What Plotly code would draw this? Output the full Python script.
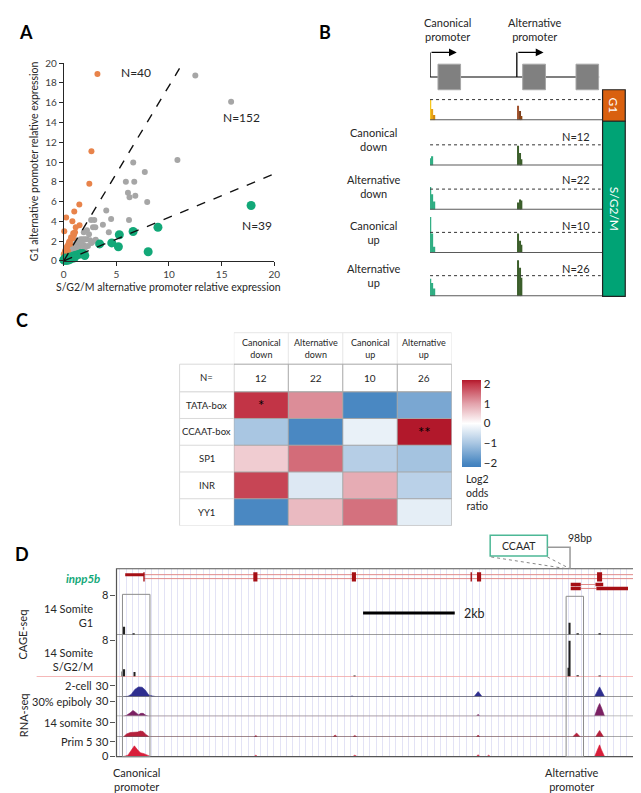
import plotly.graph_objects as go

W, H = 641, 793
def X(p): return p / W
def Y(p): return 1 - p / H

FONT = "Lato"
TXT = "#262626"

# ---------------- Panel A data ----------------
orange_x = [3.2, 2.63, 2.43, 1.48, 1.0, 0.23, 0.82, 1.5, 0.05, 1.14, 1.07, 0.98, 0.86, 0.6, 0.45,
            0.3, 0.14, 0.0, 0.02, 0.1, 0.25, 0.35, 0.5, 0.7, 0.9, 0.2, 0.4, 0.15, 0.05, 0.6]
orange_y = [18.9, 11.1, 7.8, 5.7, 5.0, 4.4, 4.0, 3.6, 3.0, 3.4, 2.9, 2.65, 2.3, 2.05, 1.7,
            1.4, 1.06, 0.67, 0.3, 0.9, 1.2, 1.5, 1.9, 2.4, 2.8, 0.6, 1.0, 0.8, 0.45, 1.7]
gray_x = [12.5, 15.9, 10.8, 6.6, 7.7, 5.9, 6.7, 6.1, 6.8, 6.25, 7.93, 4.04, 4.5, 6.2, 2.6, 2.9,
          3.72, 2.78, 4.28, 3.04, 2.63, 2.7, 2.17, 2.0, 1.8, 1.6, 1.4, 1.2, 1.0, 1.3, 1.6, 1.9,
          2.3, 0.8, 0.6, 1.0, 1.5, 0.4, 0.7, 1.2, 0.9, 0.3, 0.5, 1.7, 2.0, 1.1, 0.8, 1.4, 2.5,
          3.0, 1.2, 1.0, 0.55, 0.25, 2.4, 3.0, 1.66, 2.2, 1.9]
gray_y = [18.75, 16.1, 10.2, 9.95, 9.0, 8.0, 8.0, 6.9, 6.6, 6.45, 5.95, 5.1, 4.25, 4.15, 4.15, 4.15,
          3.65, 3.4, 2.9, 2.15, 1.8, 1.9, 2.2, 2.2, 2.2, 2.2, 2.0, 1.8, 1.6, 1.3, 1.5, 1.6,
          1.5, 1.2, 0.9, 0.9, 1.0, 0.5, 0.5, 0.7, 0.6, 0.3, 0.7, 1.8, 1.3, 1.2, 0.8, 1.4, 2.1,
          2.1, 2.1, 1.3, 0.4, 0.2, 2.7, 3.4, 1.62, 3.1, 2.9]
green_x = [17.8, 8.95, 8.02, 6.59, 5.28, 4.56, 5.19, 3.41, 1.79, 1.64, 1.4, 1.14, 0.92, 0.6, 0.45,
           0.23, 0.0, 0.3, 0.1, 0.7, 1.0, 0.5, 0.15, 2.0]
green_y = [5.6, 3.41, 0.93, 2.98, 2.65, 1.82, 1.43, 1.72, 0.75, 0.76, 0.65, 0.57, 0.5, 0.4, 0.27,
           0.17, 0.1, 0.05, 0.05, 0.2, 0.3, 0.1, 0.3, 0.55]
cut_slopes = [1.77, 0.44]
cut_x_end = [11.0, 20.0]
n_labels = ["N=40", "N=152", "N=39"]
n_label_xy = [(6.9, 19.1), (16.9, 14.5), (18.4, 3.6)]

# ---------------- Panel B data ----------------
b_tracks = ["G1", "Canonical<br>down", "Alternative<br>down", "Canonical<br>up", "Alternative<br>up"]
b_n = ["", "N=12", "N=22", "N=10", "N=26"]
b_canon_x = [0.3, 1.4, 2.6]
b_alt_x = [50.9, 52.0, 53.1]
b_canon_h = [[1.0, 0.55, 0.25], [0.35, 0.45, 0.0], [1.1, 0.75, 0.4], [1.75, 0.95, 0.3], [0.85, 0.65, 0.38]]
b_alt_h = [[0.7, 0.45, 0.2], [0.95, 0.6, 0.3], [0.35, 0.5, 0.45], [0.95, 0.6, 0.4], [1.75, 1.38, 0.9]]
exon_start = [4.6, 53.7, 84.6]
exon_end = [17.7, 66.9, 97.7]
promoter_x = [0.0, 50.3]
promoter_labels = ["Canonical<br>promoter", "Alternative<br>promoter"]

# ---------------- Panel C data ----------------
c_cols = ["Canonical<br>down", "Alternative<br>down", "Canonical<br>up", "Alternative<br>up"]
c_n = ["12", "22", "10", "26"]
c_rows = ["TATA-box", "CCAAT-box", "SP1", "INR", "YY1"]
c_z = [[2.0, 1.2, -2.0, -1.5],
       [-1.0, -2.0, -0.25, 2.4],
       [0.55, 1.5, -0.85, -1.05],
       [1.85, -0.4, 0.9, -0.8],
       [-2.0, 0.75, 1.45, -0.3]]
c_sig = [["*", "", "", ""], ["", "", "", "**"], ["", "", "", ""], ["", "", "", ""], ["", "", "", ""]]
c_ticks = [-2, -1, 0, 1, 2]

# ---------------- Panel D data (kb) ----------------
d_span_kb = 11.38
cage_g1_x = [0.17, 0.38, 9.89, 10.07, 10.55]
cage_g1_y = [1.6, 0.25, 2.4, 0.2, 0.2]
cage_s_x = [0.13, 0.17, 0.39, 5.2, 9.87, 9.89, 10.07, 10.55]
cage_s_y = [1.2, 1.7, 1.1, 0.15, 2.0, 8.0, 0.4, 0.25]
rna_labels = ["2-cell", "30% epiboly", "14 somite", "Prim 5"]
rna_colors = ["#2E2E8F", "#7B2163", "#B5203C", "#D81E3A"]
rna_x = [
    [0.15, 0.25, 0.32, 0.40, 0.48, 0.56, 0.63, 0.70, 0.78, 0.86, 5.10, 5.14, 5.18, 7.80, 7.89, 7.98, 10.43, 10.54, 10.65],
    [0.15, 0.22, 0.30, 0.36, 0.42, 0.48, 0.53, 0.58, 0.64, 0.70, 7.85, 7.89, 7.93, 10.43, 10.50, 10.54, 10.58, 10.65],
    [0.15, 0.22, 0.30, 0.38, 0.46, 0.52, 0.58, 0.64, 0.72, 3.0, 3.04, 3.08, 4.72, 4.77, 4.82, 5.15, 5.2, 5.25,
     7.85, 7.89, 7.93, 9.95, 10.04, 10.12, 10.45, 10.54, 10.63],
    [0.15, 0.25, 0.33, 0.39, 0.45, 0.52, 0.60, 0.68, 0.75, 3.0, 3.04, 3.08, 5.15, 5.2, 5.25, 7.85, 7.89, 7.93,
     8.08, 8.12, 8.16, 10.43, 10.50, 10.54, 10.58, 10.65],
]
rna_y = [
    [0, 1, 6, 20, 27, 26, 18, 5, 2, 0, 0, 2, 0, 0, 14, 0, 0, 27, 0],
    [0, 2, 7, 12, 8, 3, 6, 6, 2, 0, 0, 4, 0, 0, 18, 26, 18, 0],
    [0, 6, 9, 9, 10, 12, 11, 5, 0, 0, 3, 0, 0, 4, 0, 0, 3, 0, 0, 4, 0, 0, 8, 0, 0, 13, 0],
    [0, 3, 14, 22, 15, 8, 6, 3, 0, 0, 3, 0, 0, 3, 0, 0, 4, 0, 0, 3, 0, 0, 14, 24, 14, 0],
]
gm_first = [0.19, 0.60]
gm_exon_c = [0.60, 3.03, 5.18, 7.74, 7.91, 10.54]
gm_exon_w = [0.03, 0.09, 0.09, 0.03, 0.09, 0.11]
gm_tx2 = [[9.91, 10.13], [10.45, 10.62]]
gm_tx3 = [[9.91, 10.13], [10.47, 11.16]]
scale_kb = 2.0
scale_start_kb = 5.38
alt_box_kb = [9.81, 10.19]
can_box_kb = [0.13, 0.73]

traces = []
shapes = []
ann = []

def txt(x, y, s, size, color=TXT, **kw):
    d = dict(xref="paper", yref="paper", x=X(x), y=Y(y), text=s, showarrow=False,
             font=dict(family=FONT, size=size, color=color), xanchor="center", yanchor="middle")
    d.update(kw)
    ann.append(d)

def pline(x0, y0, x1, y1, color, width=1, dash=None):
    shapes.append(dict(type="line", xref="paper", yref="paper", x0=X(x0), y0=Y(y0), x1=X(x1), y1=Y(y1),
                       line=dict(color=color, width=width, dash=dash)))

def prect(x0, y0, x1, y1, fill, color, width=1):
    shapes.append(dict(type="rect", xref="paper", yref="paper", x0=X(x0), y0=Y(y0), x1=X(x1), y1=Y(y1),
                       fillcolor=fill, line=dict(color=color, width=width)))

layout = dict(width=W, height=H, margin=dict(l=0, r=0, t=0, b=0), paper_bgcolor="white",
              plot_bgcolor="rgba(0,0,0,0)", showlegend=False, barmode="overlay",
              font=dict(family=FONT, color=TXT))

# ================= Panel A =================
traces.append(go.Scatter(x=gray_x, y=gray_y, mode="markers", marker=dict(color="#A6A6A6", size=6),
                         xaxis="x", yaxis="y", cliponaxis=False))
traces.append(go.Scatter(x=orange_x, y=orange_y, mode="markers", marker=dict(color="#E8834A", size=6),
                         xaxis="x", yaxis="y", cliponaxis=False))
traces.append(go.Scatter(x=green_x, y=green_y, mode="markers", marker=dict(color="#12A878", size=9),
                         xaxis="x", yaxis="y", cliponaxis=False))
for s, xe in zip(cut_slopes, cut_x_end):
    traces.append(go.Scatter(x=[0, xe], y=[0, s * xe], mode="lines",
                             line=dict(color="#111111", width=1.4, dash="dash"), xaxis="x", yaxis="y"))
for t, (nx, ny) in zip(n_labels, n_label_xy):
    ann.append(dict(xref="x", yref="y", x=nx, y=ny, text=t, showarrow=False, xanchor="center", yanchor="middle",
                    font=dict(family=FONT, size=12, color=TXT)))
axA = dict(showgrid=False, zeroline=False, showline=True, linecolor="#262626", linewidth=1,
           ticks="outside", ticklen=4, tickcolor="#262626", tickfont=dict(family=FONT, size=10, color="#404040"))
layout["xaxis"] = dict(domain=[X(53.5), X(267)], range=[0, 20], anchor="y", tickvals=[0, 5, 10, 15, 20], **axA)
layout["yaxis"] = dict(domain=[Y(250), Y(49)], range=[0, 20], anchor="x", dtick=2, **axA)
txt(23, 149, "G1 alternative promoter relative expression", 10.5, textangle=-90)
txt(160, 277, "S/G2/M alternative promoter relative expression", 10.5)
txt(15, 17, "<b>A</b>", 18, color="#000000")

# ================= Panel B =================
b_base = [107, 153, 198, 242, 286]
b_lab_y = [None, 127, 174, 221, 265]
b_n_y = [None, 124, 167, 214, 258]
canon_cols = [["#F5C518", "#E8A317", "#D48806"]] + [["#2EAD82"] * 3] * 4
alt_cols = [["#A0522D", "#7B3F1E", "#8B4513"]] + [["#3B5E2B"] * 3] * 4
layout["xaxis2"] = dict(domain=[X(425), X(600)], range=[0, 100], anchor="y2", visible=False)
for i in range(5):
    yn = f"y{i+2}"
    layout[f"yaxis{i+2}"] = dict(domain=[Y(b_base[i]), Y(b_base[i] - 42)], range=[0, 2], anchor="x2", visible=False)
    traces.append(go.Bar(x=b_canon_x, y=b_canon_h[i], width=0.8, marker=dict(color=canon_cols[i], line_width=0),
                         xaxis="x2", yaxis=yn))
    traces.append(go.Bar(x=b_alt_x, y=b_alt_h[i], width=0.8, marker=dict(color=alt_cols[i], line_width=0),
                         xaxis="x2", yaxis=yn))
    shapes.append(dict(type="line", xref="x2", yref=yn, x0=0, x1=98.9, y0=1, y1=1,
                       line=dict(color="#333333", width=1, dash="dot")))
    shapes.append(dict(type="line", xref="x2", yref=yn, x0=0, x1=100, y0=0, y1=0,
                       line=dict(color="#5A5A5A", width=2)))
    if i > 0:
        txt(368, b_lab_y[i], b_tracks[i], 11)
        txt(573, b_n_y[i], b_n[i], 11)
# gene model
layout["yaxis7"] = dict(domain=[Y(80), Y(30)], range=[0, 50], anchor="x2", visible=False)
shapes.append(dict(type="line", xref="x2", yref="y7", x0=0, x1=98, y0=17, y1=17,
                   line=dict(color="#7F7F7F", width=2)))
for s0, s1 in zip(exon_start, exon_end):
    shapes.append(dict(type="rect", xref="x2", yref="y7", x0=s0, x1=s1, y0=4, y1=30,
                       fillcolor="#808080", line=dict(color="#A6A6A6", width=1)))
for px_, lab in zip(promoter_x, promoter_labels):
    shapes.append(dict(type="line", xref="x2", yref="y7", x0=px_, x1=px_, y0=17, y1=42,
                       line=dict(color="#000000", width=1.3)))
    ann.append(dict(xref="x2", yref="y7", axref="x2", ayref="y7", x=px_ + 15.5, y=42, ax=px_, ay=42,
                    text="", showarrow=True, arrowhead=2, arrowsize=1.2, arrowwidth=1.3, arrowcolor="#000000"))
    ann.append(dict(xref="x2", yref="paper", x=px_ + 10.3, y=Y(15), text=lab, showarrow=False,
                    xanchor="center", yanchor="middle", font=dict(family=FONT, size=11, color=TXT)))
prect(600, 76, 623, 108, "#D9600F", "#222222", 1.2)
prect(600, 108, 623, 286, "#00A375", "#222222", 1.2)
txt(611.5, 92, "G1", 12, color="white", textangle=90)
txt(611.5, 197, "S/G2/M", 12, color="white", textangle=90)
txt(318, 17, "<b>B</b>", 18, color="#000000")

# ================= Panel C =================
cs = [[0, "#3F7EBD"], [0.045, "#4A88C2"], [0.273, "#A9C6E2"], [0.5, "#FFFFFF"],
      [0.727, "#E3A3AC"], [0.955, "#C23446"], [1, "#B2182B"]]
traces.append(go.Heatmap(z=c_z, x=list(range(4)), y=list(range(5)), xaxis="x3", yaxis="y8",
                         colorscale=cs, zmin=-2.2, zmax=2.2,
                         colorbar=dict(x=X(457), xanchor="left", y=Y(371), yanchor="top", lenmode="pixels",
                                       len=87, thicknessmode="pixels", thickness=19, xpad=0, ypad=0,
                                       outlinewidth=0, ticks="", tickvals=c_ticks,
                                       ticktext=[str(v).replace("-", "\u2212") for v in c_ticks],
                                       tickfont=dict(family=FONT, size=11.5, color=TXT))))
layout["xaxis3"] = dict(domain=[X(226), X(447)], range=[-0.5, 3.5], anchor="y8", visible=False)
layout["yaxis8"] = dict(domain=[Y(519), Y(383)], range=[4.5, -0.5], anchor="x3", visible=False)
for r in range(5):
    for c in range(4):
        if c_sig[r][c]:
            ann.append(dict(xref="x3", yref="y8", x=c, y=r, text=c_sig[r][c], showarrow=False,
                            xanchor="center", yanchor="middle",
                            font=dict(family=FONT, size=15, color="#000000")))
    ann.append(dict(xref="paper", yref="y8", x=X(198.5), y=r, text=c_rows[r], showarrow=False,
                    xanchor="center", yanchor="middle", font=dict(family=FONT, size=9.5, color=TXT)))
for c in range(4):
    ann.append(dict(xref="x3", yref="paper", x=c, y=Y(339), text=c_cols[c], showarrow=False,
                    xanchor="center", yanchor="middle", font=dict(family=FONT, size=9, color=TXT)))
    ann.append(dict(xref="x3", yref="paper", x=c, y=Y(369), text=c_n[c], showarrow=False,
                    xanchor="center", yanchor="middle", font=dict(family=FONT, size=10, color=TXT)))
txt(198.5, 369, "N=", 9.5)
# table borders
for k in range(5):
    xb = k - 0.5
    shapes.append(dict(type="line", xref="x3", yref="paper", x0=xb, x1=xb, y0=Y(323), y1=Y(355),
                       line=dict(color="#E6E6E6", width=1)))
    shapes.append(dict(type="line", xref="x3", yref="paper", x0=xb, x1=xb, y0=Y(355), y1=Y(519),
                       line=dict(color="#A6A6A6", width=1)))
shapes.append(dict(type="line", xref="x3", yref="paper", x0=-0.5, x1=3.5, y0=Y(323), y1=Y(323),
                   line=dict(color="#E6E6E6", width=1)))
shapes.append(dict(type="line", xref="x3", yref="paper", x0=-0.5, x1=3.5, y0=Y(355), y1=Y(355),
                   line=dict(color="#A6A6A6", width=1)))
shapes.append(dict(type="line", xref="x3", yref="paper", x0=-0.5, x1=3.5, y0=Y(383), y1=Y(383),
                   line=dict(color="#A6A6A6", width=1)))
for k in range(6):
    yb = k - 0.5
    shapes.append(dict(type="line", xref="x3", yref="y8", x0=-0.5, x1=3.5, y0=yb, y1=yb,
                       line=dict(color="#A6A6A6", width=1)))
    shapes.append(dict(type="line", xref="paper", yref="y8", x0=X(171), x1=X(226), y0=yb, y1=yb,
                       line=dict(color="#D9D9D9", width=1)))
for yb in (355, 383):
    pline(171, yb, 226, yb, "#D9D9D9")
pline(171, 355, 171, 519, "#D9D9D9")
txt(473, 485, "Log2<br>odds<br>ratio", 10.5)
txt(11, 310, "<b>C</b>", 18, color="#000000")

# ================= Panel D =================
layout["xaxis4"] = dict(domain=[X(107), X(636)], range=[0, d_span_kb], anchor="y9", showgrid=True,
                        gridcolor="#E3E3F5", gridwidth=1, dtick=0.14, tick0=0.07, showticklabels=False,
                        ticks="", zeroline=False, showline=False)
layout["yaxis9"] = dict(domain=[Y(754), Y(563)], range=[0, 1], anchor="x4", visible=False)
traces.insert(0, go.Scatter(x=[0], y=[0], mode="markers", marker=dict(opacity=0), xaxis="x4", yaxis="y9",
                            hoverinfo="skip"))
layout["yaxis10"] = dict(domain=[Y(588), Y(563)], range=[0, 1], anchor="x4", visible=False)
traces.append(go.Scatter(x=[0], y=[0], mode="markers", marker=dict(opacity=0), xaxis="x4", yaxis="y10",
                         hoverinfo="skip"))
dax = dict(anchor="x4", showgrid=False, zeroline=False, showline=False, ticks="outside", ticklen=5,
           tickcolor="#555555", tickfont=dict(family=FONT, size=11, color=TXT))
layout["yaxis11"] = dict(domain=[Y(630), Y(590)], range=[0, 8], tickvals=[8], **dax)
layout["yaxis12"] = dict(domain=[Y(673), Y(636)], range=[0, 8], tickvals=[8], **dax)
rna_dom = [(693, 682), (713, 698), (734, 719), (754, 739)]
for i in range(4):
    layout[f"yaxis{13+i}"] = dict(domain=[Y(rna_dom[i][0]), Y(rna_dom[i][1])], range=[0, 30],
                                  tickvals=[0, 30] if i == 3 else [30], **dax)
traces.append(go.Bar(x=cage_g1_x, y=cage_g1_y, width=0.035, marker=dict(color="#222222", line_width=0),
                     xaxis="x4", yaxis="y11", cliponaxis=False))
traces.append(go.Bar(x=cage_s_x, y=cage_s_y, width=0.035, marker=dict(color="#222222", line_width=0),
                     xaxis="x4", yaxis="y12", cliponaxis=False))
for i in range(4):
    traces.append(go.Scatter(x=rna_x[i], y=rna_y[i], mode="lines", fill="tozeroy",
                             line=dict(color=rna_colors[i], width=0.6), fillcolor=rna_colors[i],
                             xaxis="x4", yaxis=f"y{13+i}"))
# track separators
sep = [("y11", "#666666", 1, 107), ("y12", "#F2A0A0", 1.2, 26), ("y13", "#666666", 1, 107),
       ("y14", "#AAAAAA", 1.5, 107), ("y15", "#666666", 1, 107)]
for yn, col, wd, x0 in sep:
    shapes.append(dict(type="line", xref="paper", yref=yn, x0=X(x0), x1=X(637),
                       y0=0, y1=0, line=dict(color=col, width=wd)))
# gene model
red = "#A50F15"
shapes.append(dict(type="rect", xref="x4", yref="y10", x0=gm_first[0], x1=gm_first[1], y0=0.7, y1=0.82,
                   fillcolor=red, line_width=0))
for yy in (0.76, 0.6):
    shapes.append(dict(type="line", xref="x4", yref="y10", x0=gm_first[1], x1=d_span_kb, y0=yy, y1=yy,
                       line=dict(color="#E08A8A", width=1)))
for c, w in zip(gm_exon_c, gm_exon_w):
    shapes.append(dict(type="rect", xref="x4", yref="y10", x0=c - w / 2, x1=c + w / 2, y0=0.48, y1=0.86,
                       fillcolor=red, line_width=0))
for tx, yy in ((gm_tx2, 0.36), (gm_tx3, 0.2)):
    shapes.append(dict(type="line", xref="x4", yref="y10", x0=tx[0][1], x1=tx[1][0], y0=yy, y1=yy,
                       line=dict(color="#E08A8A", width=1)))
    for a, b in tx:
        shapes.append(dict(type="rect", xref="x4", yref="y10", x0=a, x1=b, y0=yy - 0.07, y1=yy + 0.07,
                           fillcolor=red, line_width=0))
# frame and promoter boxes
prect(107, 563, 637, 754, "rgba(0,0,0,0)", "#555555", 1.2)
shapes.append(dict(type="rect", xref="x4", yref="paper", x0=can_box_kb[0], x1=can_box_kb[1], y0=Y(754), y1=Y(589),
                   line=dict(color="#8C8C8C", width=1)))
shapes.append(dict(type="rect", xref="x4", yref="paper", x0=alt_box_kb[0], x1=alt_box_kb[1], y0=Y(754), y1=Y(591),
                   line=dict(color="#8C8C8C", width=1)))
# scale bar
shapes.append(dict(type="line", xref="x4", yref="paper", x0=scale_start_kb, x1=scale_start_kb + scale_kb,
                   y0=Y(608), y1=Y(608), line=dict(color="#000000", width=3)))
txt(470, 608, "2kb", 12.5)
# CCAAT call-out
prect(486, 529, 544, 550, "white", "#4DB896", 1.5)
txt(515, 540, "CCAAT", 10.5)
shapes.append(dict(type="path", xref="paper", yref="paper",
                   path=f"M {X(544)} {Y(541)} L {X(567)} {Y(541)} L {X(567)} {Y(563)}",
                   line=dict(color="#999999", width=1.5)))
txt(577, 532, "98bp", 10.5)
pline(487, 551, 564, 563, "#888888", 1, "dot")
pline(544, 551, 567, 563, "#888888", 1, "dot")
# labels
txt(73, 573, "<b><i>inpp5b</i></b>", 11.5, color="#12A878")
txt(85, 610, "14 Somite<br>G1", 11, xanchor="right", align="right")
txt(85, 655, "14 Somite<br>S/G2/M", 11, xanchor="right", align="right")
rna_lab_y = [682, 698, 719, 739]
for lab, yy in zip(rna_labels, rna_lab_y):
    txt(84, yy, lab, 11, xanchor="right")
txt(12, 630, "CAGE-seq", 11, textangle=-90)
txt(12, 712, "RNA-seq", 11, textangle=-90)
txt(127, 777, "Canonical<br>promoter", 11)
txt(569, 777, "Alternative<br>promoter", 11)
txt(11, 548, "<b>D</b>", 18, color="#000000")

layout["shapes"] = shapes
layout["annotations"] = ann
fig = go.Figure(data=traces, layout=layout)
fig.write_html("out.html")
